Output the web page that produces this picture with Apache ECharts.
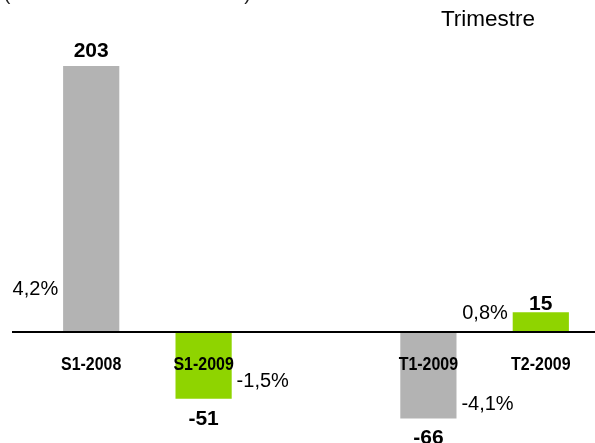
<!DOCTYPE html>
<html>
<head>
<meta charset="utf-8">
<script src="https://cdn.jsdelivr.net/npm/echarts@6/dist/echarts.min.js"></script>
<style>
  html, body { margin: 0; padding: 0; background: #fff; }
  #chart { width: 595px; height: 443px; }
</style>
</head>
<body>
<div id="chart"></div>
<script>
// Periods (the empty slot separates half-year and quarter groups)
const categories = ['S1-2008', 'S1-2009', '', 'T1-2009', 'T2-2009'];
// Change in millions of euros
const values = [203, -51, null, -66, 15];
// Change in percent
const pctLabels = ['4,2%', '-1,5%', null, '-4,1%', '0,8%'];
const groupTitle = 'Trimestre';
const unitNote = "(variation en millions d'euros)";

// Layout: where each percent label sits (value units) and on which side of its bar
const pctAnchor = [32.5, -38, null, -55, 14];
const pctSide = ['left', 'right', null, 'right', 'left'];
const barColors = ['#b3b3b3', '#8fd400', null, '#b3b3b3', '#8fd400'];
const valueLabelDist = [4, 10, 0, 9, -2];

const FONT = "'Liberation Sans', Arial, sans-serif";

const chart = echarts.init(document.getElementById('chart'), null, { renderer: 'canvas' });

const barData = values.map((v, i) => {
  if (v === null) return null;
  return {
    value: v,
    itemStyle: { color: barColors[i] },
    label: {
      position: v >= 0 ? 'top' : 'bottom',
      distance: valueLabelDist[i]
    }
  };
});

const pctData = pctLabels.map((t, i) => {
  if (t === null) return null;
  return {
    value: [i, pctAnchor[i]],
    label: { position: pctSide[i], formatter: t }
  };
});

chart.setOption({
  animation: false,
  grid: { left: 35, width: 562, top: 17.6, height: 419.2, outerBoundsMode: 'none', containLabel: false },
  xAxis: {
    type: 'category',
    data: categories,
    axisLine: { show: false },
    axisTick: { show: false },
    axisLabel: { show: false }
  },
  yAxis: {
    type: 'value',
    min: -80,
    max: 240,
    show: false,
    splitLine: { show: false }
  },
  series: [
    {
      type: 'bar',
      data: barData,
      barWidth: '50%',
      z: 1,
      label: {
        show: true,
        color: '#000',
        fontFamily: FONT,
        fontWeight: 'bold',
        fontSize: 21,
        formatter: p => String(p.value)
      }
    },
    {
      type: 'scatter',
      data: pctData,
      symbolSize: 0,
      silent: true,
      itemStyle: { opacity: 1 },
      label: {
        show: true,
        distance: 33,
        color: '#000',
        opacity: 1,
        fontFamily: FONT,
        fontSize: 20
      }
    }
  ]
});

// Baseline across the full width at the zero level
const zeroY = chart.convertToPixel({ yAxisIndex: 0 }, 0);
const graphics = [
  {
    type: 'line',
    z: 10,
    shape: { x1: 12, y1: zeroY, x2: 595, y2: zeroY },
    style: { stroke: '#000', lineWidth: 2 }
  },
  {
    type: 'text',
    x: 488,
    y: 31,
    style: {
      text: groupTitle,
      font: '22.5px ' + FONT,
      fill: '#000',
      textAlign: 'center',
      textVerticalAlign: 'bottom'
    }
  },
  {
    type: 'text',
    x: 4,
    y: 4,
    style: {
      text: unitNote,
      font: '19px ' + FONT,
      fill: '#222',
      textAlign: 'left',
      textVerticalAlign: 'bottom'
    }
  }
];

// Condensed bold period labels under the baseline
categories.forEach((c, i) => {
  if (!c) return;
  const cx = chart.convertToPixel({ xAxisIndex: 0 }, c);
  graphics.push({
    type: 'text',
    x: cx,
    y: zeroY + 33,
    scaleX: 0.84,
    z: 20,
    style: {
      text: c,
      font: 'bold 19px ' + FONT,
      fill: '#000',
      textAlign: 'center',
      textVerticalAlign: 'middle'
    }
  });
});

chart.setOption({ graphic: graphics });
</script>
</body>
</html>
